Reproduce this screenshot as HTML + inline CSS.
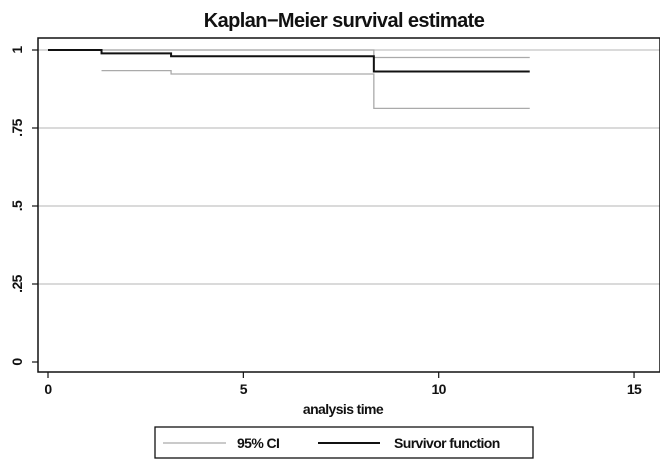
<!DOCTYPE html>
<html><head><meta charset="utf-8"><style>
body{margin:0;background:#fff;}
svg text{font-family:"Liberation Sans",Arial,sans-serif;font-weight:bold;letter-spacing:-0.6px;}
</style></head><body>
<svg width="660" height="465" viewBox="0 0 660 465">
<text x="344" y="27" text-anchor="middle" font-size="20" fill="#111">Kaplan−Meier survival estimate</text>
<g id="grid"></g>
<g id="series"></g>
<rect x="38" y="38" width="622" height="334" fill="none" stroke="#111" stroke-width="1.5"/>
<g id="axes"></g>
<text x="343" y="414" text-anchor="middle" font-size="14" fill="#111">analysis time</text>
<g>
<rect x="155" y="427" width="378" height="31" fill="#fff" stroke="#111" stroke-width="1.3"/>
<line x1="163" y1="443" x2="226" y2="443" stroke="#aaa" stroke-width="1.3"/>
<text x="237" y="448" font-size="14" fill="#111">95% CI</text>
<line x1="318" y1="443" x2="380" y2="443" stroke="#111" stroke-width="2"/>
<text x="394" y="448" font-size="14" fill="#111">Survivor function</text>
</g>
</svg>
<script>
const times=[0,1.37,3.15,8.34,12.33];
const survivor=[1,0.989,0.980,0.931];
const upperCI=[1,1,1,0.976];
const lowerCI=[null,0.934,0.923,0.813];
const yTicks=[0,0.25,0.5,0.75,1];
const yTickLabels=["0",".25",".5",".75","1"];
const xTicks=[0,5,10,15];
const xTickLabels=["0","5","10","15"];
const NS="http://www.w3.org/2000/svg";
function sx(t){return 48+t*39.07;}
function sy(v){return 362-v*312;}
function mk(tag,attrs,parent){const e=document.createElementNS(NS,tag);for(const k in attrs)e.setAttribute(k,attrs[k]);parent.appendChild(e);return e;}
const grid=document.getElementById('grid'),axes=document.getElementById('axes'),series=document.getElementById('series');
yTicks.forEach((v,i)=>{
  if(v>0){const g=mk('line',{x1:38,x2:660,y1:sy(v),y2:sy(v),stroke:'#c4c4c4','stroke-width':1.3},grid);
  
  }
  const t=mk('line',{x1:32,x2:38,y1:sy(v),y2:sy(v),stroke:'#111','stroke-width':1.2},axes);
  
  
  const tx=mk('text',{x:0,y:0,transform:`translate(22,${sy(v)}) rotate(-90)`,'text-anchor':'middle','font-size':14,fill:'#111'},axes);
  tx.textContent=yTickLabels[i];
  
  
});
xTicks.forEach((v,i)=>{
  const t=mk('line',{x1:sx(v),x2:sx(v),y1:372,y2:378,stroke:'#111','stroke-width':1.2},axes);
  
  
  const tx=mk('text',{x:sx(v),y:394,'text-anchor':'middle','font-size':14,fill:'#111'},axes);
  tx.textContent=xTickLabels[i];
  
  
});
function stepPath(vals){
  let d='',started=false;
  for(let i=0;i<vals.length;i++){
    const v=vals[i];if(v===null)continue;
    const x0=sx(times[i]),x1=sx(times[i+1]),y=sy(v);
    if(!started){d+=`M${x0},${y}`;started=true;}else{d+=`L${x0},${y}`;}
    d+=`L${x1},${y}`;
  }
  return d;
}
const up=mk('path',{d:stepPath(upperCI),fill:'none',stroke:'#aaa','stroke-width':1.3},series);


const lo=mk('path',{d:stepPath(lowerCI),fill:'none',stroke:'#aaa','stroke-width':1.3},series);


const sv=mk('path',{d:stepPath(survivor),fill:'none',stroke:'#111','stroke-width':2},series);


</script>
</body></html>
